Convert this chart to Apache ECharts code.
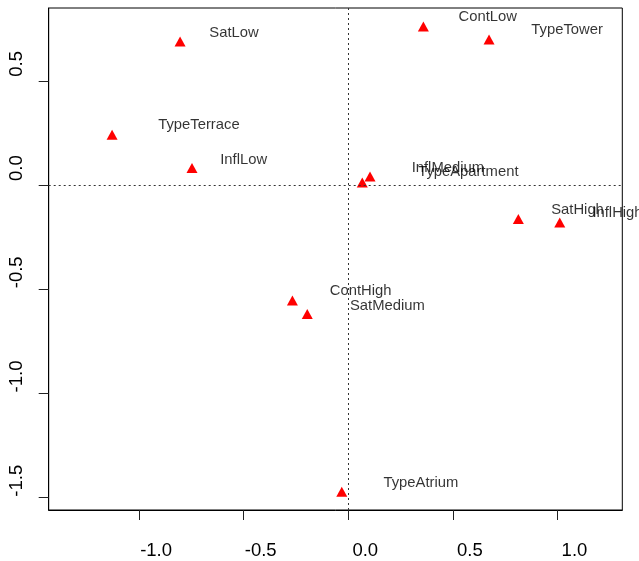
<!DOCTYPE html>
<html>
<head>
<meta charset="utf-8">
<script src="https://cdn.jsdelivr.net/npm/echarts@6/dist/echarts.min.js"></script>
<style>html,body{margin:0;padding:0;background:#fff}#c{width:639px;height:561px}</style>
</head>
<body>
<div id="c"></div>
<script>
const names = ['SatLow','TypeTerrace','InflLow','ContLow','TypeTower','InflMedium','TypeApartment','SatHigh','InflHigh','ContHigh','SatMedium','TypeAtrium'];
const pointX = [-0.804,-1.129,-0.747,0.359,0.673,0.104,0.067,0.813,1.011,-0.267,-0.196,-0.031];
const pointY = [0.689,0.242,0.082,0.761,0.699,0.042,0.013,-0.162,-0.179,-0.554,-0.618,-1.471];
const labelX = [-0.546,-0.714,-0.500,0.667,1.046,0.476,0.574,1.096,1.287,0.059,0.187,0.347];
const labelY = [0.732,0.290,0.121,0.806,0.745,0.081,0.065,-0.118,-0.134,-0.506,-0.578,-1.427];
const xTicks = [-1.0,-0.5,0.0,0.5,1.0];
const yTicks = [-1.5,-1.0,-0.5,0.0,0.5];

const chart = echarts.init(document.getElementById('c'), null, {renderer:'canvas'});
const fmt = v => Number(v).toFixed(1);
chart.setOption({
  animation:false,
  backgroundColor:'#fff',
  textStyle:{fontFamily:'Liberation Sans, Arial, sans-serif'},
  grid:{left:48.7,top:8,right:16.7,bottom:51,show:true,borderColor:'#000',borderWidth:1,backgroundColor:'transparent'},
  xAxis:{type:'value',min:-1.432,max:1.31,splitLine:{show:false},
    axisLine:{show:true,onZero:false,lineStyle:{color:'#000'}},
    axisTick:{show:true,customValues:xTicks,length:10,lineStyle:{color:'#222'}},
    axisLabel:{customValues:xTicks,formatter:fmt,fontSize:18.5,color:'#000',margin:31,padding:[0,0,0,34]}},
  yAxis:{type:'value',min:-1.559,max:0.85,splitLine:{show:false},
    axisLine:{show:true,onZero:false,lineStyle:{color:'#000'}},
    axisTick:{show:true,customValues:yTicks,length:10,lineStyle:{color:'#222'}},
    axisLabel:{customValues:yTicks,formatter:fmt,fontSize:18.5,color:'#000',rotate:90,margin:22,align:'center',verticalAlign:'bottom',padding:[0,0,0,34]}},
  series:[
    {type:'scatter',symbol:'triangle',symbolSize:[11,10],itemStyle:{color:'#ff0000',opacity:1},
     data:pointX.map((x,i)=>[x,pointY[i]]),
     markLine:{silent:true,symbol:'none',label:{show:false},lineStyle:{color:'#333',type:[2,3],width:1},
       data:[{xAxis:0},{yAxis:0}]}},
    {type:'scatter',symbolSize:0,clip:false,
     data:labelX.map((x,i)=>({name:names[i],value:[x,labelY[i]]})),
     label:{show:true,position:'inside',formatter:p=>p.name,color:'#000',fontSize:14.8}}
  ]
});
</script>
</body>
</html>
